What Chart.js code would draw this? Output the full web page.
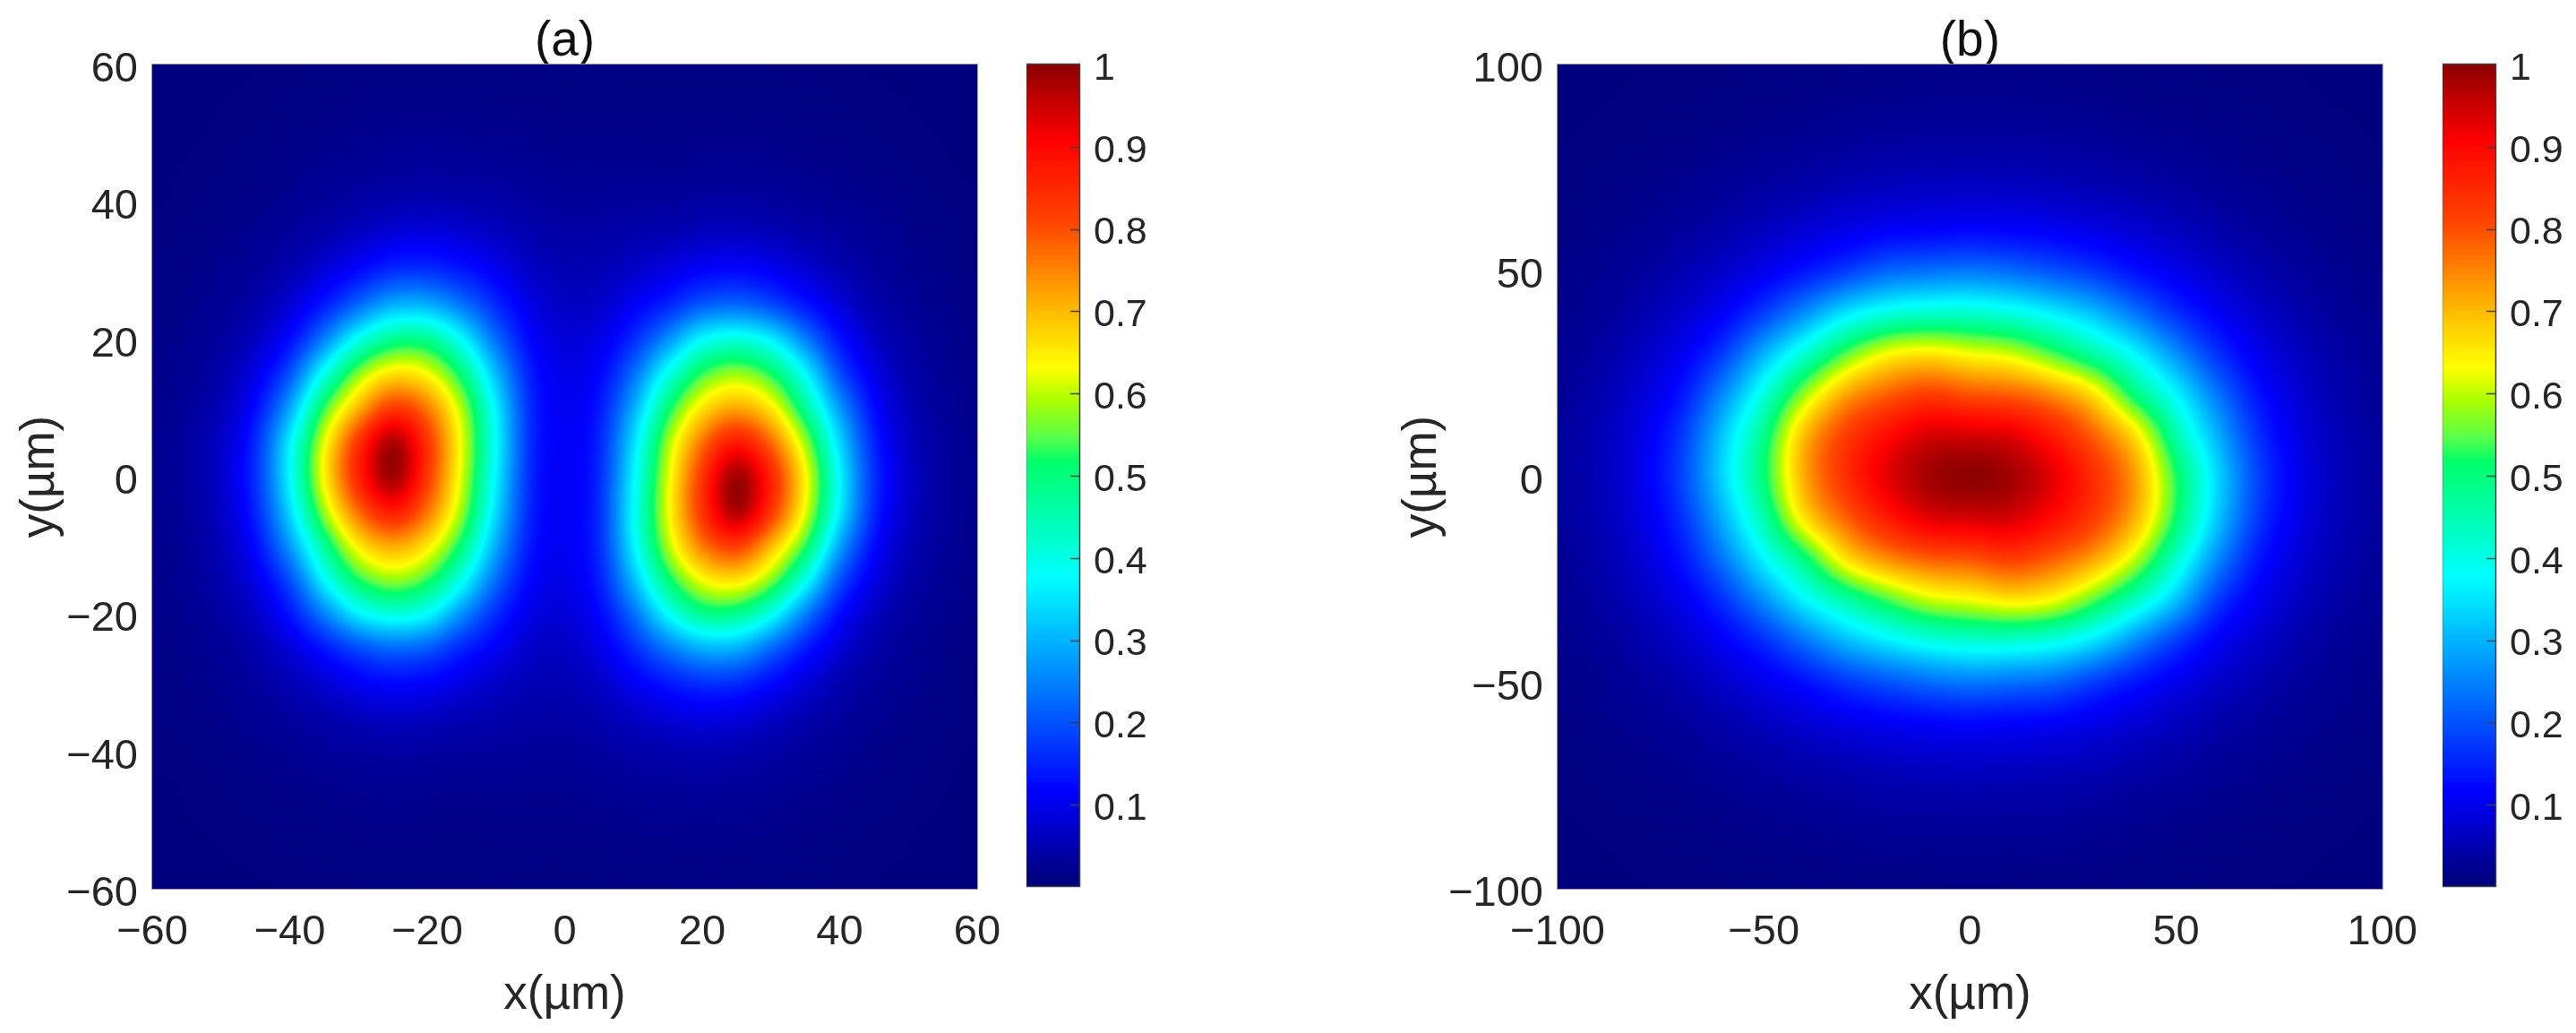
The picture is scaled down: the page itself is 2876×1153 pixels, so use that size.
<!DOCTYPE html>
<html><head><meta charset="utf-8">
<title>Intensity maps</title>
<script src="https://cdn.jsdelivr.net/npm/chart.js@4/dist/chart.umd.js"></script>
<style>
html,body{margin:0;padding:0;background:#fff;width:2876px;height:1153px;overflow:hidden}
canvas{position:absolute;top:0;display:block}
</style></head><body>
<canvas id="mapA"></canvas><canvas id="barA"></canvas><canvas id="mapB"></canvas><canvas id="barB"></canvas>
<script>
// Panel (a): x positions of the columns, y positions of the rows, intensity in percent (one list per column, top row first)
const xGridA = [-60,-55,-50,-45,-40,-35,-30,-25,-20,-15,-10,-5,0,5,10,15,20,25,30,35,40,45,50,55,60];
const yGridA = [60,55,50,45,40,35,30,25,20,15,10,5,0,-5,-10,-15,-20,-25,-30,-35,-40,-45,-50,-55,-60];
const intensityA = [
[.1,.1,.1,.1,.15,.25,.4,.5,.7,.9,1.1,1.3,1.4,1.3,1.15,.95,.8,.6,.5,.35,.25,.15,.1,.1,.1],
[.1,.1,.15,.25,.35,.55,.75,1,1.4,1.9,2.3,2.7,2.8,2.6,2.3,2,1.6,1.2,.9,.6,.4,.25,.2,.1,.1],
[.1,.2,.3,.45,.6,.95,1.4,2,2.7,3.7,4.8,5.9,6.4,5.7,4.8,3.9,3,2.2,1.6,1.1,.7,.45,.3,.2,.1],
[.2,.3,.5,.65,1,1.7,2.4,3.6,5.5,8.5,11.6,14.5,15.2,14,11.5,8.8,6,3.9,2.7,1.9,1.2,.7,.45,.3,.15],
[.3,.45,.7,1.1,1.7,2.7,4.2,7.3,11.6,18.7,27.5,35.5,36.5,33,26.5,18.3,12.5,7.6,4.5,2.8,1.7,1,.6,.4,.25],
[.4,.6,1,1.6,2.5,4.2,7.6,13.4,23.7,39,53,62,64,58,47,37,24,12.7,7.3,3.9,2.3,1.3,.8,.5,.3],
[.5,.8,1.3,2,3.4,6.1,11.5,21.5,39,57,70,83.7,86,77.5,65,52,36,18.3,10,5.3,2.8,1.6,1,.6,.35],
[.5,.9,1.5,2.4,4.1,8,15.3,29,48,66,82.8,99,100,87.7,71.6,58,40.6,21.5,11.5,6,3.1,1.8,1.1,.6,.4],
[.6,.9,1.6,2.6,4.5,8.7,15.6,29,48,63,76,83.5,83,76.5,65.5,53,37.5,20,10.7,5.7,3,1.7,1,.6,.35],
[.5,.85,1.5,2.4,4.1,7.6,13.2,23,37.5,50,59,62,61,58,50,39,25.5,14.3,8.5,4.6,2.6,1.5,.9,.55,.35],
[.5,.8,1.3,2.2,3.7,5.9,9.9,15,21.9,30,35.7,37.2,35.8,33.3,28.3,21.8,15,10.1,6.2,4.1,2.6,1.6,1,.6,.35],
[.45,.7,1.2,1.85,2.9,4.3,6,8.6,11,13.3,14.6,14.7,14.3,13.8,12.6,10.8,8.6,6.3,4.7,3.55,2.4,1.5,1,.65,.4],
[.4,.6,1,1.5,2.3,3.4,4.5,5.8,7.5,8.8,9.6,9.8,9.8,9.8,9.6,8.8,7.5,5.8,4.5,3.4,2.3,1.5,1,.6,.4],
[.4,.65,1,1.5,2.4,3.55,4.7,6.3,8.6,10.8,12.6,13.8,14.3,14.7,14.6,13.3,11,8.6,6,4.3,2.9,1.85,1.2,.7,.45],
[.35,.6,1,1.6,2.6,4.1,6.2,10.1,15,21.8,28.3,33.3,35.8,37.2,35.7,30,21.9,15,9.9,5.9,3.7,2.2,1.3,.8,.5],
[.35,.55,.9,1.5,2.6,4.6,8.5,14.3,25.5,39,50,58,61,62,59,50,37.5,23,13.2,7.6,4.1,2.4,1.5,.85,.5],
[.35,.6,1,1.7,3,5.7,10.7,20,37.5,53,65.5,76.5,83,83.5,76,63,48,29,15.6,8.7,4.5,2.6,1.6,.9,.6],
[.4,.6,1.1,1.8,3.1,6,11.5,21.5,40.6,58,71.6,87.7,100,99,82.8,66,48,29,15.3,8,4.1,2.4,1.5,.9,.5],
[.35,.6,1,1.6,2.8,5.3,10,18.3,36,52,65,77.5,86,83.7,70,57,39,21.5,11.5,6.1,3.4,2,1.3,.8,.5],
[.3,.5,.8,1.3,2.3,3.9,7.3,12.7,24,37,47,58,64,62,53,39,23.7,13.4,7.6,4.2,2.5,1.6,1,.6,.4],
[.25,.4,.6,1,1.7,2.8,4.5,7.6,12.5,18.3,26.5,33,36.5,35.5,27.5,18.7,11.6,7.3,4.2,2.7,1.7,1.1,.7,.45,.3],
[.15,.3,.45,.7,1.2,1.9,2.7,3.9,6,8.8,11.5,14,15.2,14.5,11.6,8.5,5.5,3.6,2.4,1.7,1,.65,.5,.3,.2],
[.1,.2,.3,.45,.7,1.1,1.6,2.2,3,3.9,4.8,5.7,6.4,5.9,4.8,3.7,2.7,2,1.4,.95,.6,.45,.3,.2,.1],
[.1,.1,.2,.25,.4,.6,.9,1.2,1.6,2,2.3,2.6,2.8,2.7,2.3,1.9,1.4,1,.75,.55,.35,.25,.15,.1,.1],
[.1,.1,.1,.15,.25,.35,.5,.6,.8,.95,1.15,1.3,1.4,1.3,1.1,.9,.7,.5,.4,.25,.15,.1,.1,.1,.1]
];
// Panel (b)
const xGridB = [-100,-90,-80,-70,-60,-50,-40,-30,-20,-10,0,10,20,30,40,50,60,70,80,90,100];
const yGridB = [100,90,80,70,60,50,40,30,20,10,0,-10,-20,-30,-40,-50,-60,-70,-80,-90,-100];
const intensityB = [
[.1,.1,.2,.35,.55,.8,1.2,1.7,2.1,2.5,2.6,2.4,2,1.7,1.2,.8,.55,.35,.2,.1,.1],
[.1,.2,.35,.6,1,1.6,2.2,3.1,4.1,4.8,5,4.6,3.9,3.1,2.2,1.5,1,.6,.35,.2,.1],
[.2,.3,.5,1,1.65,2.6,3.9,5.7,7.2,8.6,9,8.2,7,5.5,3.9,2.6,1.6,1,.55,.3,.2],
[.2,.4,.8,1.5,2.5,4.3,6.5,9.4,12.6,16.2,17.5,15.4,12.4,9.1,6.4,4.2,2.5,1.5,.8,.45,.25],
[.3,.6,1.2,2.2,3.8,6.4,10,16.5,25,31.5,33,29,23,15.5,10,6.4,3.9,2.2,1.2,.65,.3],
[.4,.8,1.6,3,5.5,9,16.5,29,40,48,50,45,36.5,25.5,15,9,5.5,3,1.6,.8,.4],
[.5,1,2,3.9,7.2,12.5,25,41,58,70.5,72,66.5,49,36.5,22.5,12,7.2,3.9,2,1,.5],
[.6,1.3,2.6,5,8.7,16.5,34,54,72,82,84,78,66,45,30,16,8.5,4.7,2.5,1.3,.6],
[.65,1.5,3,5.6,10,21,39,63,78,89,93,87,74,53,35,19,9.7,5.4,3,1.5,.7],
[.75,1.6,3.1,6,10.4,22,41,65,82,94,98,93,78,60,39,21.5,10.5,6,3.1,1.6,.75],
[.8,1.65,3.2,6.1,10.8,23,41,62,79,94,100,94,79,62,41,23,10.8,6.1,3.2,1.65,.8],
[.75,1.6,3.1,6,10.5,21.5,39,60,78,93,98,94,82,65,41,22,10.4,6,3.1,1.6,.75],
[.7,1.5,3,5.4,9.7,19,35,53,74,87,93,89,78,63,39,21,10,5.6,3,1.5,.65],
[.6,1.3,2.5,4.7,8.5,16,30,45,66,78,84,82,72,54,34,16.5,8.7,5,2.6,1.3,.6],
[.5,1,2,3.9,7.2,12,22.5,36.5,49,66.5,73,71,60,43,25,12.5,7.2,3.9,2,1,.5],
[.4,.8,1.6,3,5.5,9,15,25.5,36.5,45,52,51,42,31,16.5,9,5.5,3,1.6,.8,.4],
[.3,.65,1.2,2.2,3.9,6.4,10,15.5,23,29,33,31.5,25,16.5,10,6.4,3.8,2.2,1.2,.6,.3],
[.25,.45,.8,1.5,2.5,4.2,6.4,9.1,12.4,15.4,17.5,16.2,12.6,9.4,6.5,4.3,2.5,1.5,.8,.4,.2],
[.2,.3,.55,1,1.6,2.6,3.9,5.5,7,8.2,9,8.6,7.2,5.7,3.9,2.6,1.65,1,.5,.3,.2],
[.1,.2,.35,.6,1,1.5,2.2,3.1,3.9,4.6,5,4.8,4.1,3.1,2.2,1.6,1,.6,.35,.2,.1],
[.1,.1,.2,.35,.55,.8,1.2,1.7,2,2.4,2.6,2.5,2.1,1.7,1.2,.8,.55,.35,.2,.1,.1]
];
const ticksA = [-60,-40,-20,0,20,40,60];
const ticksB = [-100,-50,0,50,100];
const ticksBar = [0.1,0.2,0.3,0.4,0.5,0.6,0.7,0.8,0.9,1];
const titles = ['(a)','(b)'];
const xLabel = 'x(µm)', yLabel = 'y(µm)';
// Colour scale: value, r, g, b
const colorStops = [
[0,0,0,125],[0.11,0,0,255],[0.37,0,255,255],[0.51,0,255,105],[0.54,90,255,75],[0.585,170,255,0],
[0.625,255,255,0],[0.7,255,180,0],[0.8,255,70,0],[0.9,255,0,0],[0.95,195,0,0],[1,130,0,0]
];
const barLevels = 160;

const FONT = 'Liberation Sans, Arial, sans-serif';
const INK = '#262626';

function colorOf(v){
  v = Math.max(0, Math.min(1, v));
  for (let i = 1; i < colorStops.length; i++){
    const a = colorStops[i-1], b = colorStops[i];
    if (v <= b[0]){
      const t = (v-a[0])/(b[0]-a[0]);
      return [a[1]+(b[1]-a[1])*t, a[2]+(b[2]-a[2])*t, a[3]+(b[3]-a[3])*t];
    }
  }
  return colorStops[colorStops.length-1].slice(1);
}
const css = c => `rgb(${Math.round(c[0])},${Math.round(c[1])},${Math.round(c[2])})`;
const fmt = v => String(v).replace('-','\u2212');

// Mitchell-Netravali bicubic kernel
function kern(x){
  x = Math.abs(x);
  if (x < 1) return (7*x*x*x - 12*x*x + 16/3)/6;
  if (x < 2) return (-7/3*x*x*x + 12*x*x - 20*x + 32/3)/6;
  return 0;
}
// Smooth shading of the cells: placed by the chart's own scales
const smoothCells = {
  id:'smoothCells',
  afterDatasetsDraw(chart){
    const cfg = chart.options.plugins.smoothCells; if(!cfg||!cfg.values) return;
    const {xs,ys,values} = cfg, a = chart.chartArea;
    const W = Math.round(a.right-a.left), H = Math.round(a.bottom-a.top);
    const off = document.createElement('canvas'); off.width=W; off.height=H;
    const oc = off.getContext('2d'), img = oc.createImageData(W,H);
    const sx = chart.scales.x, sy = chart.scales.y;
    const nx = xs.length, ny = ys.length, dx = xs[1]-xs[0], dy = ys[1]-ys[0];
    const at = (i,j)=>values[Math.max(0,Math.min(nx-1,i))][Math.max(0,Math.min(ny-1,j))];
    for (let py=0; py<H; py++){
      const gy = (sy.getValueForPixel(a.top+py+.5)-ys[0])/dy;
      const j = Math.floor(gy), tj = gy-j;
      const wy = [kern(tj+1),kern(tj),kern(1-tj),kern(2-tj)];
      for (let px=0; px<W; px++){
        const gx = (sx.getValueForPixel(a.left+px+.5)-xs[0])/dx;
        const i = Math.floor(gx), ti = gx-i;
        const wx = [kern(ti+1),kern(ti),kern(1-ti),kern(2-ti)];
        let s = 0;
        for (let m=0;m<4;m++) for (let n=0;n<4;n++) s += wx[m]*wy[n]*at(i-1+m,j-1+n);
        const c = colorOf(s/100);
        const o = (py*W+px)*4;
        img.data[o]=c[0]; img.data[o+1]=c[1]; img.data[o+2]=c[2]; img.data[o+3]=255;
      }
    }
    oc.putImageData(img,0,0);
    chart.ctx.drawImage(off,a.left,a.top);
  }
};
const frame = {
  id:'frame',
  afterDraw(chart){
    const o = chart.options.plugins.frame, a = chart.chartArea, c = chart.ctx;
    c.save(); c.strokeStyle=o.color; c.lineWidth=o.width;
    if (o.inner){
      const s = chart.scales.y;
      c.beginPath();
      ticksBar.forEach(v=>{ if(v<1){ const y=Math.round(s.getPixelForValue(v))+.5; c.moveTo(a.right,y); c.lineTo(a.right-o.inner,y);} });
      c.stroke();
    }
    c.strokeRect(a.left-.5,a.top-.5,a.right-a.left+1,a.bottom-a.top+1);
    c.restore();
  }
};

function mapChart(id,left,width,title,xs,ys,values,tickList,yAxisWidth,lim){
  const cv = document.getElementById(id);
  cv.width=width; cv.height=1153; cv.style.left=left+'px';
  const pts=[];
  xs.forEach((x,i)=>ys.forEach((y,j)=>pts.push({x,y,v:values[i][j]})));
  const axisTicks = s => { s.ticks = tickList.map(v=>({value:v})); };
  const tickFont = {family:FONT,size:47};
  const labelFont = {family:FONT,size:53};
  return new Chart(cv,{
    type:'scatter',
    plugins:[smoothCells,frame],
    data:{datasets:[{
      data:pts,
      pointStyle:'rect',
      borderWidth:0,
      backgroundColor:ctx=>css(colorOf(ctx.raw.v/100)),
      radius:ctx=>{ const s=ctx.chart.scales.x; return s?Math.abs(s.getPixelForValue(xs[1])-s.getPixelForValue(xs[0]))*0.75:1; }
    }]},
    options:{
      responsive:false,animation:false,events:[],
      layout:{padding:{right:width-(yAxisWidth+921),top:0,left:0,bottom:0}},
      plugins:{
        legend:{display:false},tooltip:{enabled:false},
        title:{display:true,text:title,color:'#111',fullSize:false,font:{family:FONT,size:55,weight:'normal'},padding:{top:14,bottom:-8}},
        smoothCells:{xs,ys,values},
        frame:{color:'#9a9a9a',width:1}
      },
      scales:{
        x:{type:'linear',min:-lim,max:lim,afterBuildTicks:axisTicks,afterFit:s=>{s.height=161;},
          grid:{display:false,drawTicks:false},border:{display:false},
          ticks:{color:INK,font:tickFont,padding:21,maxRotation:0,autoSkip:false,callback:fmt},
          title:{display:true,text:xLabel,color:INK,font:labelFont,padding:{top:0,bottom:10}}},
        y:{type:'linear',min:-lim,max:lim,afterBuildTicks:axisTicks,afterFit:s=>{s.width=yAxisWidth;},
          grid:{display:false,drawTicks:false},border:{display:false},
          ticks:{color:INK,font:tickFont,padding:16,labelOffset:6,autoSkip:false,callback:fmt},
          title:{display:true,text:yLabel,color:INK,font:labelFont,padding:{top:id==='mapA'?14:17,bottom:0}}}
      }
    }
  });
}
function barChart(id,left,width){
  const cv = document.getElementById(id);
  cv.width=width; cv.height=1153; cv.style.left=left+'px';
  const lo=0.001, hi=1, step=(hi-lo)/barLevels, sets=[];
  for(let i=0;i<barLevels;i++){
    const a=lo+i*step;
    sets.push({data:[[a,Math.min(hi,a+step*2)]],backgroundColor:css(colorOf(a+step/2)),borderWidth:0,barPercentage:1,categoryPercentage:1,grouped:false});
  }
  return new Chart(cv,{
    type:'bar',plugins:[frame],
    data:{labels:[''],datasets:sets},
    options:{
      responsive:false,animation:false,events:[],
      layout:{padding:{top:72,bottom:164,left:0,right:0}},
      plugins:{legend:{display:false},tooltip:{enabled:false},frame:{color:'#404040',width:1.5,inner:10}},
      scales:{
        x:{display:false},
        y:{type:'linear',position:'right',min:lo,max:hi,afterBuildTicks:s=>{s.ticks=ticksBar.map(v=>({value:v}));},
          afterFit:s=>{s.width=width-59;},
          grid:{display:false,drawTicks:false},border:{display:false},
          ticks:{color:INK,font:{family:FONT,size:43},padding:16,labelOffset:5,autoSkip:false,callback:v=>String(v)}}
      }
    }
  });
}
mapChart('mapA',0,1140,titles[0],xGridA,yGridA,intensityA,ticksA,170,60);
barChart('barA',1146,170);
mapChart('mapB',1540,1180,titles[1],xGridB,yGridB,intensityB,ticksB,199,100);
barChart('barB',2727,149);
</script>
</body></html>
